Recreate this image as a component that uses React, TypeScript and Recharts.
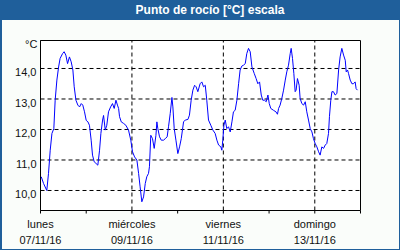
import React from "react";
import {
  LineChart,
  Line,
  CartesianGrid,
  XAxis,
  YAxis,
  ReferenceLine,
  ReferenceArea,
} from "recharts";

// hours since lunes 07/11/16 00:00
const hours = [
  0.4, 1.6, 3.3, 4.2, 5.1, 6.0, 7.0, 7.7, 8.6, 9.5, 10.3, 11.6, 12.4, 13.3, 14.2, 15.2, 16.1, 17.0, 17.7, 18.6,
  19.6, 20.5, 21.4, 22.2, 23.1, 24.0, 24.9, 25.7, 26.6, 27.3, 28.2, 29.1, 30.1, 31.0, 31.7, 32.6, 33.1, 34.0, 34.8, 35.7,
  36.8, 37.8, 38.7, 39.6, 40.4, 41.0, 41.5, 42.4, 43.6, 44.8, 46.2, 47.4, 48.3, 49.4, 50.6, 51.5, 52.3, 53.2, 54.1, 55.0,
  55.8, 56.7, 57.2, 57.9, 58.8, 59.7, 60.6, 61.1, 61.6, 62.5, 63.4, 64.6, 65.5, 66.5, 67.2, 68.1, 69.0, 69.5, 70.2, 71.1,
  72.1, 73.0, 73.9, 75.1, 76.0, 77.4, 78.2, 79.1, 80.0, 80.9, 81.7, 82.6, 83.8, 84.7, 85.6, 86.5, 87.3, 88.2, 89.4, 90.5,
  91.7, 92.6, 93.5, 94.7, 95.2, 95.7, 96.3, 97.0, 97.8, 98.7, 99.6, 100.5, 101.3, 102.2, 103.1, 104.0, 104.8, 105.7, 106.6, 107.5,
  108.3, 109.2, 110.1, 111.0, 112.2, 113.2, 114.1, 115.0, 115.9, 116.7, 117.6, 118.5, 119.4, 120.1, 120.9, 122.3, 123.6, 124.4, 125.0, 125.8,
  126.7, 127.6, 128.5, 129.3, 130.2, 131.1, 131.6, 132.3, 133.0, 133.7, 134.2, 134.9, 135.8, 136.3, 137.2, 138.1, 139.0, 139.8, 140.7, 141.6,
  142.5, 143.3, 144.2, 145.1, 146.0, 146.8, 147.7, 148.6, 149.5, 150.3, 151.2, 151.7, 152.4, 153.0, 153.8, 154.7, 155.6, 156.5, 157.3, 158.2,
  159.1, 160.0, 160.5, 161.2, 161.7, 162.6, 163.5, 164.3, 165.2, 165.7, 166.4,
];

const dewPoint = [
  10.45, 10.23, 10.0, 10.56, 11.32, 11.87, 12.03, 12.96, 13.62, 14.05, 14.33, 14.49, 14.55, 14.44, 14.16, 14.38, 14.22, 13.95, 13.4, 12.96,
  12.8, 12.74, 12.85, 12.8, 12.58, 12.3, 12.25, 12.14, 11.65, 11.16, 10.94, 10.89, 10.83, 11.32, 11.87, 12.31, 12.46, 11.98, 12.14, 12.58,
  12.74, 12.85, 12.69, 12.96, 12.8, 12.69, 12.42, 12.25, 12.2, 12.14, 11.98, 11.65, 11.27, 11.1, 11.0, 10.56, 10.12, 9.63, 9.79, 10.23,
  10.45, 10.56, 10.78, 11.81, 11.7, 11.38, 11.81, 12.25, 12.03, 11.76, 11.65, 11.65, 11.7, 11.76, 12.09, 12.52, 13.05, 12.74, 12.03, 11.65,
  11.21, 11.43, 11.7, 12.25, 12.31, 12.33, 12.47, 12.96, 13.29, 13.45, 13.4, 13.24, 13.5, 13.56, 13.4, 13.45, 12.96, 12.31, 12.14, 11.98,
  11.87, 11.65, 11.49, 11.43, 11.32, 11.65, 12.14, 12.31, 12.03, 12.09, 11.92, 12.25, 12.58, 12.63, 12.96, 13.5, 13.95, 14.08, 14.11, 14.16,
  14.49, 14.66, 14.55, 14.05, 13.84, 13.67, 13.5, 13.56, 13.13, 12.96, 12.96, 12.91, 13.13, 12.85, 12.69, 12.63, 12.58, 12.5, 12.69, 12.8,
  13.02, 13.29, 13.62, 13.89, 14.11, 14.49, 14.66, 14.33, 13.84, 13.24, 13.29, 13.67, 13.45, 13.02, 12.85, 12.8, 12.91, 12.58, 12.31, 12.03,
  11.92, 11.7, 11.54, 11.43, 11.27, 11.16, 11.43, 11.38, 11.49, 11.54, 11.87, 12.42, 12.96, 13.24, 13.24, 13.13, 13.18, 13.95, 14.38, 14.66,
  14.44, 14.27, 13.89, 13.95, 13.84, 13.62, 13.5, 13.5, 13.56, 13.34, 13.29,
];

const dayTicks = [0, 24, 48, 72, 96, 120, 144, 168];
const labelHours = [0, 48, 96, 144];
const dayNames = ["lunes", "miércoles", "viernes", "domingo"];
const dayDates = ["07/11/16", "09/11/16", "11/11/16", "13/11/16"];
const gridHours = [48, 96, 144];
const yTicks = [10, 11, 12, 13, 14];
const yMin = 9.344;
const yMax = 14.918;

const data = hours.map((h, i) => ({ h, v: dewPoint[i] }));

const FONT = "'Liberation Sans', Arial, sans-serif";
const BLUE = "#1f5f9b";

const DayTick = ({ x, y, payload }: any) => {
  const idx = labelHours.indexOf(payload.value);
  if (idx < 0) return <g />;
  return (
    <g>
      <text x={x} y={y + 12.5} textAnchor="middle" fontSize={11} fontFamily={FONT} fill="#111">
        {dayNames[idx]}
      </text>
      <text x={x} y={y + 28.5} textAnchor="middle" fontSize={11} fontFamily={FONT} fill="#111">
        {dayDates[idx]}
      </text>
    </g>
  );
};

const ValueTick = ({ x, y, payload }: any) => (
  <text x={x} y={y + 8} textAnchor="end" fontSize={11} fontFamily={FONT} fill="#111">
    {payload.value.toFixed(1).replace(".", ",")}
  </text>
);

export default function App() {
  return (
    <div
      style={{
        position: "absolute",
        left: 0,
        top: 0,
        width: 400,
        height: 250,
        background: "#fafdfa",
        overflow: "hidden",
        fontFamily: FONT,
      }}
    >
      <div
        style={{
          position: "absolute",
          left: 0,
          top: 0,
          width: 400,
          height: 20,
          background: BLUE,
          color: "#fff",
          fontWeight: "bold",
          fontSize: 12,
          lineHeight: "20px",
          textAlign: "center",
          paddingLeft: 20,
          boxSizing: "border-box",
        }}
      >
        Punto de rocío [°C] escala
      </div>
      <div style={{ position: "absolute", left: 0, top: 0 }}>
        <LineChart
          width={400}
          height={250}
          data={data}
          margin={{ top: 40.5, right: 39.5, bottom: 9.5, left: 0 }}
        >
          <CartesianGrid
            vertical={false}
            stroke="#000"
            strokeDasharray="4 3"
            fill="#fff"
          />
          {gridHours.map((h) => (
            <ReferenceLine key={h} x={h} stroke="#000" strokeDasharray="4 3" />
          ))}
          <ReferenceArea x1={0} x2={168} y1={yMin} y2={yMax} fill="none" stroke="#000" />
          <XAxis
            dataKey="h"
            type="number"
            domain={[0, 168]}
            ticks={dayTicks}
            interval={0}
            allowDataOverflow
            axisLine={false}
            height={30}
            tickSize={3}
            tickLine={{ stroke: "#000" }}
            tick={<DayTick />}
          />
          <YAxis
            type="number"
            domain={[yMin, yMax]}
            ticks={yTicks}
            allowDataOverflow
            axisLine={false}
            tickLine={false}
            tickSize={2}
            width={40.5}
            tick={<ValueTick />}
          />
          <Line
            type="linear"
            dataKey="v"
            stroke="#0000ff"
            strokeWidth={1}
            dot={false}
            isAnimationActive={false}
          />
        </LineChart>
      </div>
      <div
        style={{
          position: "absolute",
          left: 25,
          top: 38,
          fontSize: 11,
          color: "#111",
        }}
      >
        °C
      </div>
      <div
        style={{
          position: "absolute",
          left: 0,
          top: 0,
          width: 400,
          height: 250,
          boxSizing: "border-box",
          border: `1px solid ${BLUE}`,
          borderLeftWidth: 2,
          pointerEvents: "none",
        }}
      />
    </div>
  );
}
